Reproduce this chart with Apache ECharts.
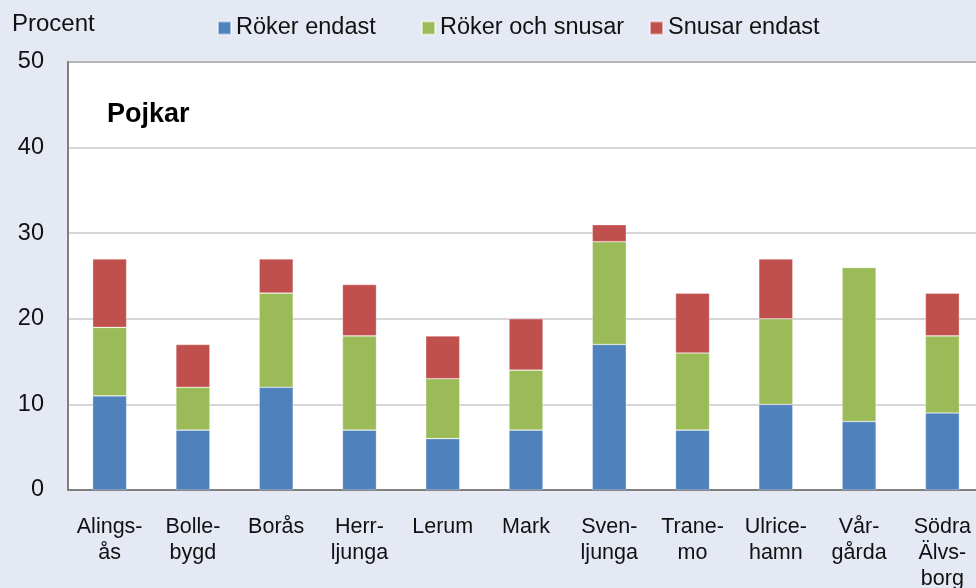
<!DOCTYPE html>
<html><head><meta charset="utf-8">
<script src="https://cdn.jsdelivr.net/npm/echarts@6/dist/echarts.min.js"></script>
<style>html,body{margin:0;padding:0;background:#E4E9F4;}#c{width:976px;height:588px;}</style>
</head><body><div id="c"></div>
<script>
var categories = ['Alings-\nås','Bolle-\nbygd','Borås','Herr-\nljunga','Lerum','Mark','Sven-\nljunga','Trane-\nmo','Ulrice-\nhamn','Vår-\ngårda','Södra\nÄlvs-\nborg'];
var rokerEndast = [11, 7, 12, 7, 6, 7, 17, 7, 10, 8, 9];
var rokerOchSnusar = [8, 5, 11, 11, 7, 7, 12, 9, 10, 18, 9];
var snusarEndast = [8, 5, 4, 6, 5, 6, 2, 7, 7, 0, 5];
var seriesNames = ['Röker endast', 'Röker och snusar', 'Snusar endast'];
var yTicks = [0, 10, 20, 30, 40, 50];

var colors = ['#4F81BD', '#9BBB59', '#C0504D'];
var font = 'Liberation Sans, Arial, Helvetica, sans-serif';
var chart = echarts.init(document.getElementById('c'), null, {renderer: 'canvas'});
function mkSeries(name, data, color) {
  return {name: name, type: 'bar', stack: 'a', data: data, barWidth: 34,
    itemStyle: {color: color, borderColor: 'rgba(255,255,255,0.5)', borderWidth: 0.6}};
}
function mkLegend(name, left) {
  return {data: [name], left: left, top: 11, icon: 'rect', itemWidth: 13, itemHeight: 13, itemGap: 0,
    textStyle: {fontFamily: font, fontSize: 23.5, color: '#111'}};
}
chart.setOption({
  backgroundColor: '#E4E9F4',
  animation: false,
  textStyle: {fontFamily: font},
  legend: [mkLegend(seriesNames[0], 212), mkLegend(seriesNames[1], 416), mkLegend(seriesNames[2], 644)],
  title: [
    {text: 'Procent', left: 7, top: 7, textStyle: {fontFamily: font, fontSize: 24, fontWeight: 'normal', color: '#111'}},
    {text: 'Pojkar', left: 102, top: 96, textStyle: {fontFamily: font, fontSize: 27, fontWeight: 'bold', color: '#000'}}
  ],
  grid: {left: 68, top: 62, width: 916, height: 428, show: true, backgroundColor: '#fff', borderColor: '#808080', borderWidth: 2, containLabel: false, outerBoundsMode: 'none'},
  xAxis: {type: 'category', data: categories,
    axisLine: {show: true, lineStyle: {color: '#808080', width: 2}},
    axisTick: {show: false},
    axisLabel: {fontFamily: font, fontSize: 21.5, color: '#111', margin: 24, lineHeight: 26, interval: 0, verticalAlign: 'top'}},
  yAxis: {type: 'value', min: yTicks[0], max: yTicks[yTicks.length-1], interval: 10,
    axisLine: {show: true, lineStyle: {color: '#808080', width: 2}},
    axisTick: {show: false},
    splitLine: {show: true, lineStyle: {color: '#C8C8C8', width: 1.5}},
    axisLabel: {fontFamily: font, fontSize: 23.5, color: '#111', margin: 24, padding: [3, 0, 0, 0]}},
  series: [
    mkSeries(seriesNames[0], rokerEndast, colors[0]),
    mkSeries(seriesNames[1], rokerOchSnusar, colors[1]),
    mkSeries(seriesNames[2], snusarEndast, colors[2])
  ]
});
</script></body></html>
